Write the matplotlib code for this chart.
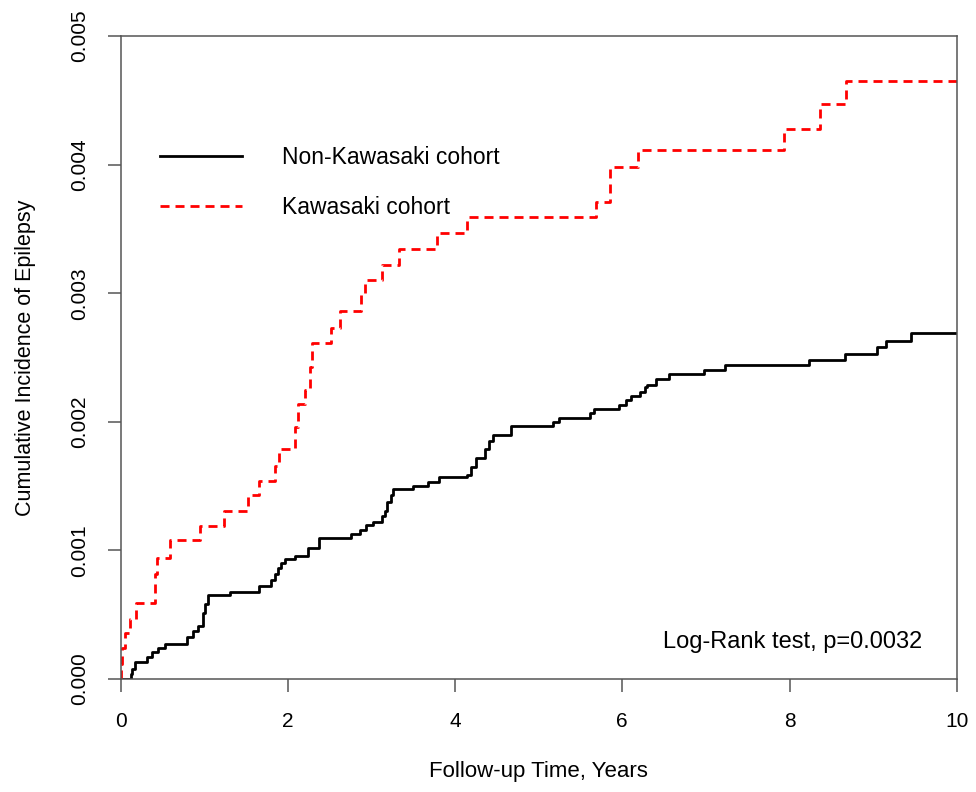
import matplotlib
matplotlib.use("Agg")
import matplotlib.pyplot as plt

plt.rcParams['font.family'] = ['Liberation Sans', 'DejaVu Sans']
plt.rcParams['lines.scale_dashes'] = False

# Non-Kawasaki cohort (step times in years, cumulative incidence)
non_t = [0, 0.12, 0.14, 0.17, 0.31, 0.37, 0.45, 0.53, 0.79, 0.87, 0.93, 0.99, 1.01, 1.05,
         1.31, 1.66, 1.80, 1.84, 1.88, 1.92, 1.96, 2.08, 2.24, 2.37, 2.76, 2.86, 2.94, 3.02,
         3.12, 3.16, 3.19, 3.23, 3.26, 3.50, 3.68, 3.81, 4.14, 4.19, 4.25, 4.36, 4.41, 4.45,
         4.67, 5.17, 5.24, 5.61, 5.66, 5.96, 6.05, 6.11, 6.21, 6.27, 6.29, 6.40, 6.56, 6.98,
         7.23, 8.23, 8.66, 9.05, 9.16, 9.45, 10.0]
non_v = [0, 0.00004, 0.00008, 0.00013, 0.00017, 0.00021, 0.00024, 0.00027, 0.00033, 0.00037,
         0.00041, 0.00051, 0.00058, 0.00065, 0.00068, 0.00072, 0.00077, 0.00082, 0.00086,
         0.00090, 0.00093, 0.00096, 0.00102, 0.00110, 0.00113, 0.00116, 0.00120, 0.00122,
         0.00127, 0.00131, 0.00138, 0.00143, 0.00148, 0.00150, 0.00153, 0.00157, 0.00159,
         0.00165, 0.00172, 0.00179, 0.00185, 0.00190, 0.00197, 0.00200, 0.00203, 0.00207,
         0.00210, 0.00213, 0.00217, 0.00220, 0.00223, 0.00227, 0.00229, 0.00233, 0.00237,
         0.00240, 0.00244, 0.00248, 0.00253, 0.00258, 0.00263, 0.00269, 0.00269]

# Kawasaki cohort
kaw_t = [0, 0.005, 0.02, 0.05, 0.11, 0.18, 0.41, 0.43, 0.59, 0.95, 1.24, 1.52, 1.66, 1.84,
         1.89, 2.08, 2.12, 2.20, 2.26, 2.29, 2.52, 2.62, 2.88, 2.92, 3.12, 3.33, 3.78, 4.14,
         5.69, 5.85, 6.19, 7.94, 8.36, 8.68, 10.0]
kaw_v = [0, 0.00012, 0.00024, 0.00036, 0.00047, 0.00059, 0.00082, 0.00094, 0.00108, 0.00119,
         0.00131, 0.00143, 0.00154, 0.00166, 0.00179, 0.00196, 0.00214, 0.00225, 0.00243,
         0.00261, 0.00273, 0.00286, 0.00299, 0.00310, 0.00322, 0.00334, 0.00347, 0.00359,
         0.00371, 0.00398, 0.00411, 0.00428, 0.00447, 0.00465, 0.00465]

x_ticks = [0, 2, 4, 6, 8, 10]
y_ticks = [0.000, 0.001, 0.002, 0.003, 0.004, 0.005]
y_tick_labels = ["0.000", "0.001", "0.002", "0.003", "0.004", "0.005"]

fig = plt.figure(figsize=(9.76, 7.92), dpi=100)
ax = fig.add_axes([120.7 / 976, 113 / 792, (956.7 - 120.7) / 976, (679 - 36) / 792])

ln1, = ax.plot(non_t, non_v, drawstyle='steps-post', color='black', lw=2.0,
               label='Non-Kawasaki cohort')
ln2, = ax.plot(kaw_t, kaw_v, drawstyle='steps-post', color='#ff0000', lw=2.0,
               dashes=(6.5, 4.3), label='Kawasaki cohort')

ax.set_xlim(0, 10)
ax.set_ylim(0, 0.005)
ax.set_xticks(x_ticks)
ax.set_xticklabels([str(v) for v in x_ticks])
ax.set_yticks(y_ticks)
ax.set_yticklabels(y_tick_labels)

spine_col = '#555555'
for s in ax.spines.values():
    s.set_color(spine_col)
    s.set_linewidth(1.1)
ax.tick_params(axis='both', direction='out', length=9.5, width=1.1, color=spine_col,
               labelsize=15, labelcolor='black')
ax.tick_params(axis='x', pad=14)
ax.tick_params(axis='y', pad=13)
for lab in ax.get_yticklabels():
    lab.set_rotation(90)
    lab.set_va('center')

ax.set_xlabel('Follow-up Time, Years', fontsize=16, labelpad=22)
ax.set_ylabel('Cumulative Incidence of Epilepsy', fontsize=15.5, labelpad=25)

leg = ax.legend(handles=[ln1, ln2], loc='upper left', bbox_to_anchor=(0.0375, 0.841),
                frameon=False, fontsize=16.5, handlelength=3.58, handletextpad=1.75,
                labelspacing=1.18, borderaxespad=0, borderpad=0.35)

ax.text(9.585, 0.00029, 'Log-Rank test, p=0.0032', ha='right', va='center', fontsize=17)

fig.savefig('out.png', dpi=100)
